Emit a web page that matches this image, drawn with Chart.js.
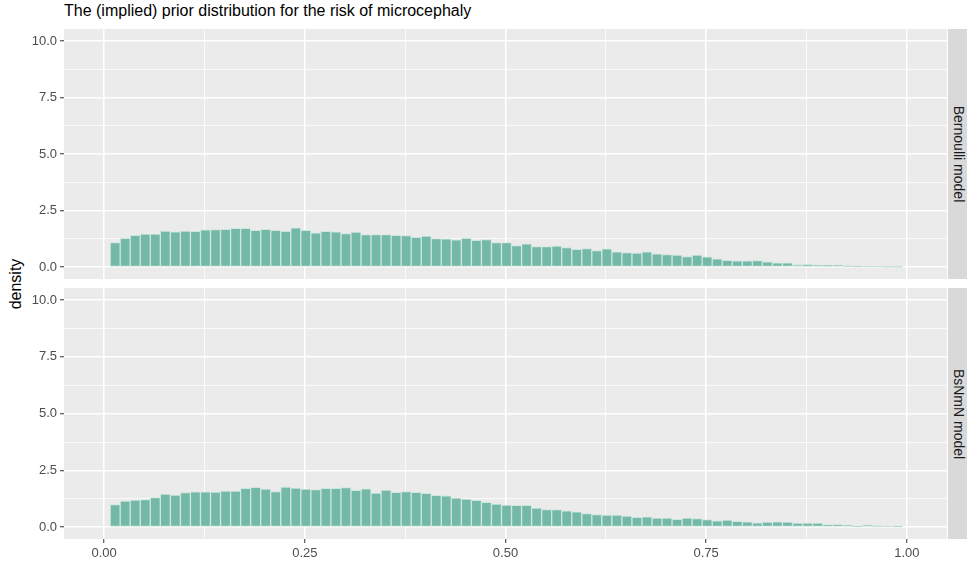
<!DOCTYPE html>
<html lang="en">
<head>
<meta charset="UTF-8">
<title>Implied prior distribution</title>
<script src="https://cdn.jsdelivr.net/npm/chart.js"></script>
<style>
  body { margin: 0; background: #ffffff; }
  #wrap { position: relative; width: 967px; height: 561px; overflow: hidden; font-family: "Liberation Sans", Arial, sans-serif; }
  canvas { position: absolute; left: 0; }
  #topPanel { top: 0; }
  #bottomPanel { top: 280px; }
  .title { position: absolute; left: 64px; top: 3px; font-size: 16px; line-height: 16px; color: #000; white-space: nowrap; }
  .ytitle { position: absolute; left: 16px; top: 284px; font-size: 16px; line-height: 16px; color: #000; white-space: nowrap; transform: translate(-50%, -50%) rotate(-90deg); }
  .strip { position: absolute; left: 948px; width: 19px; background: #d9d9d9; }
  .strip span { position: absolute; left: 60%; top: 50%; font-size: 14px; line-height: 14px; color: #1a1a1a; white-space: nowrap; transform: translate(-50%, -50%) rotate(90deg); }
</style>
</head>
<body>
<div id="wrap">
  <div class="title">The (implied) prior distribution for the risk of microcephaly</div>
  <div class="ytitle">density</div>
  <canvas id="topPanel" width="947" height="280"></canvas>
  <canvas id="bottomPanel" width="947" height="281"></canvas>
  <div class="strip" style="top: 29px; height: 250px;"><span>Bernoulli model</span></div>
  <div class="strip" style="top: 288px; height: 251px;"><span>BsNmN model</span></div>
</div>

<script>
  // histogram bin centres (bin width 0.0125)
  const binMids = [
    0.01375, 0.02625, 0.03875, 0.05125, 0.06375, 0.07625, 0.08875, 0.10125, 0.11375, 0.12625,
    0.13875, 0.15125, 0.16375, 0.17625, 0.18875, 0.20125, 0.21375, 0.22625, 0.23875, 0.25125,
    0.26375, 0.27625, 0.28875, 0.30125, 0.31375, 0.32625, 0.33875, 0.35125, 0.36375, 0.37625,
    0.38875, 0.40125, 0.41375, 0.42625, 0.43875, 0.45125, 0.46375, 0.47625, 0.48875, 0.50125,
    0.51375, 0.52625, 0.53875, 0.55125, 0.56375, 0.57625, 0.58875, 0.60125, 0.61375, 0.62625,
    0.63875, 0.65125, 0.66375, 0.67625, 0.68875, 0.70125, 0.71375, 0.72625, 0.73875, 0.75125,
    0.76375, 0.77625, 0.78875, 0.80125, 0.81375, 0.82625, 0.83875, 0.85125, 0.86375, 0.87625,
    0.88875, 0.90125, 0.91375, 0.92625, 0.93875, 0.95125, 0.96375, 0.97625, 0.98875
  ];

  // density per bin
  const bernoulliDensity = [
    1.09, 1.28, 1.41, 1.47, 1.47, 1.60, 1.57, 1.60, 1.59, 1.65,
    1.66, 1.68, 1.72, 1.72, 1.63, 1.68, 1.63, 1.59, 1.74, 1.63,
    1.52, 1.59, 1.56, 1.49, 1.55, 1.44, 1.44, 1.44, 1.41, 1.40,
    1.32, 1.38, 1.27, 1.25, 1.21, 1.28, 1.19, 1.22, 1.09, 1.09,
    0.96, 1.03, 0.91, 0.91, 0.94, 0.87, 0.79, 0.82, 0.74, 0.81,
    0.68, 0.65, 0.63, 0.68, 0.59, 0.56, 0.54, 0.47, 0.54, 0.46,
    0.37, 0.31, 0.28, 0.28, 0.29, 0.24, 0.19, 0.19, 0.12, 0.13,
    0.10, 0.09, 0.10, 0.06, 0.02, 0.01, 0.01, 0.005, 0.005
  ];
  const bsnmnDensity = [
    1.00, 1.15, 1.19, 1.22, 1.30, 1.46, 1.41, 1.52, 1.56, 1.56,
    1.55, 1.59, 1.59, 1.71, 1.75, 1.68, 1.57, 1.77, 1.72, 1.68,
    1.66, 1.71, 1.71, 1.74, 1.62, 1.69, 1.50, 1.63, 1.53, 1.57,
    1.53, 1.49, 1.40, 1.38, 1.28, 1.24, 1.18, 1.09, 1.02, 0.97,
    0.96, 0.96, 0.84, 0.77, 0.78, 0.72, 0.68, 0.60, 0.56, 0.53,
    0.53, 0.49, 0.43, 0.46, 0.40, 0.40, 0.35, 0.40, 0.38, 0.34,
    0.28, 0.31, 0.26, 0.24, 0.19, 0.22, 0.24, 0.22, 0.18, 0.18,
    0.18, 0.12, 0.13, 0.09, 0.04, 0.09, 0.06, 0.03, 0.04
  ];

  const xMajor = [0, 0.25, 0.5, 0.75, 1];
  const xMinor = [0.125, 0.375, 0.625, 0.875];
  const xLabels = ['0.00', '0.25', '0.50', '0.75', '1.00'];
  const yMajor = [0, 2.5, 5, 7.5, 10];
  const yMinor = [1.25, 3.75, 6.25, 8.75];
  const yLabels = ['0.0', '2.5', '5.0', '7.5', '10.0'];

  Chart.defaults.font.family = '"Liberation Sans", Arial, sans-serif';

  // grey panel background like ggplot
  const panelBg = {
    id: 'panelBg',
    beforeDraw(chart) {
      const a = chart.chartArea;
      const ctx = chart.ctx;
      ctx.save();
      ctx.fillStyle = '#ebebeb';
      ctx.fillRect(a.left, a.top, a.right - a.left, a.bottom - a.top);
      ctx.restore();
    }
  };

  function isIn(list, v) {
    return list.some(m => Math.abs(m - v) < 1e-9);
  }

  function allTicks(major, minor) {
    return major.concat(minor).sort((a, b) => a - b).map(v => ({ value: v }));
  }

  function makePanel(id, values, withXAxis, padTop) {
    return new Chart(document.getElementById(id), {
      type: 'bar',
      data: {
        datasets: [{
          data: binMids.map((x, i) => ({ x: x, y: values[i] })),
          backgroundColor: '#74b8a7',
          borderColor: '#cde6de',
          borderWidth: 1,
          borderSkipped: false,
          barPercentage: 1,
          categoryPercentage: 1
        }]
      },
      options: {
        responsive: false,
        animation: false,
        layout: { padding: { top: padTop, right: 0, bottom: withXAxis ? 0 : 1, left: 0 } },
        plugins: { legend: { display: false }, tooltip: { enabled: false } },
        scales: {
          x: {
            type: 'linear',
            min: -0.05,
            max: 1.05,
            offset: false,
            afterBuildTicks: s => { s.ticks = allTicks(xMajor, xMinor); },
            afterFit: s => { s.height = withXAxis ? 22 : 0; s.paddingLeft = 0; s.paddingRight = 0; },
            ticks: {
              display: withXAxis,
              autoSkip: false,
              maxRotation: 0,
              padding: 3,
              color: '#4d4d4d',
              font: { size: 13 },
              callback: v => { const i = xMajor.indexOf(v); return i < 0 ? '' : xLabels[i]; }
            },
            grid: {
              offset: false,
              color: '#ffffff',
              lineWidth: c => (c.tick && isIn(xMajor, c.tick.value)) ? 1.5 : 0.75,
              drawTicks: withXAxis,
              tickLength: 4,
              tickWidth: 1,
              tickColor: c => (c.tick && isIn(xMajor, c.tick.value)) ? '#333333' : 'rgba(0,0,0,0)'
            },
            border: { display: false }
          },
          y: {
            type: 'linear',
            min: -0.52,
            max: 10.53,
            afterBuildTicks: s => { s.ticks = allTicks(yMajor, yMinor); },
            afterFit: s => { s.width = 64; s.paddingTop = 0; s.paddingBottom = 0; },
            ticks: {
              autoSkip: false,
              padding: 3,
              color: '#4d4d4d',
              font: { size: 13 },
              callback: v => { const i = yMajor.indexOf(v); return i < 0 ? '' : yLabels[i]; }
            },
            grid: {
              color: '#ffffff',
              lineWidth: c => (c.tick && isIn(yMajor, c.tick.value)) ? 1.5 : 0.75,
              tickLength: 4,
              tickWidth: 1,
              tickColor: c => (c.tick && isIn(yMajor, c.tick.value)) ? '#333333' : 'rgba(0,0,0,0)'
            },
            border: { display: false }
          }
        }
      },
      plugins: [panelBg]
    });
  }

  makePanel('topPanel', bernoulliDensity, false, 29);
  makePanel('bottomPanel', bsnmnDensity, true, 8);
</script>
</body>
</html>
